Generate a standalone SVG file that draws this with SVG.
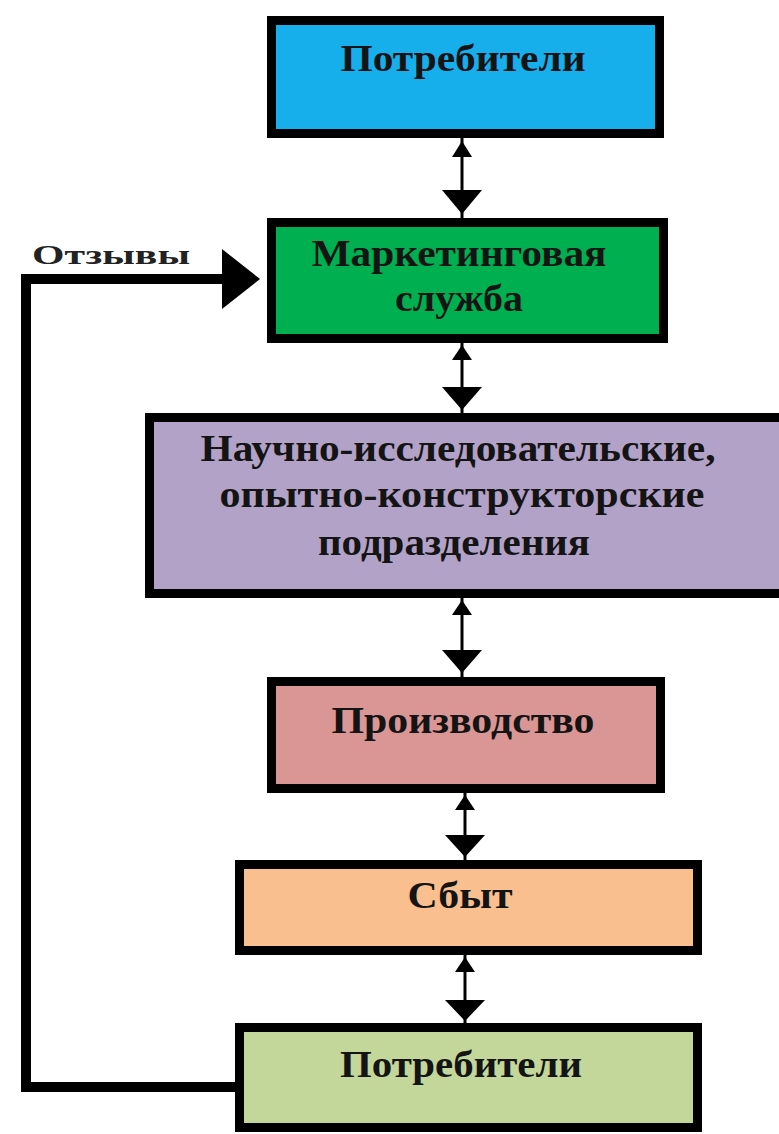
<svg xmlns="http://www.w3.org/2000/svg" width="779" height="1134" viewBox="0 0 779 1134">
<style>
.box{stroke:#000;stroke-width:9}
.t{font-family:"Liberation Serif","Times New Roman",serif;font-weight:bold;font-size:38px;text-anchor:middle;fill:#141414}
.lbl{font-family:"Liberation Serif","Times New Roman",serif;font-weight:bold;font-size:27px;fill:#222}
.thin{stroke:#000;stroke-width:3;fill:none}
.thick{stroke:#000;stroke-width:10;fill:none;stroke-linejoin:miter}
.ah{fill:#000}
</style>
<rect width="779" height="1134" fill="#fff"/>
<g id="connectors">
  <g id="c1">
    <line class="thin" x1="462" y1="138" x2="462" y2="218"/>
    <polygon class="ah" points="452,157 472,157 462,141"/>
    <polygon class="ah" points="442,190 482,190 462,214"/>
  </g>
  <g id="c2">
    <line class="thin" x1="462" y1="343" x2="462" y2="413"/>
    <polygon class="ah" points="452,360 472,360 462,345"/>
    <polygon class="ah" points="442,387 482,387 462,410"/>
  </g>
  <g id="c3">
    <line class="thin" x1="462" y1="598" x2="462" y2="677"/>
    <polygon class="ah" points="452,615 472,615 462,600"/>
    <polygon class="ah" points="442,650 482,650 462,673"/>
  </g>
  <g id="c4">
    <line class="thin" x1="465" y1="793" x2="465" y2="860"/>
    <polygon class="ah" points="455,810 475,810 465,795"/>
    <polygon class="ah" points="445,835 485,835 465,857"/>
  </g>
  <g id="c5">
    <line class="thin" x1="465" y1="955" x2="465" y2="1023"/>
    <polygon class="ah" points="455,972 475,972 465,957"/>
    <polygon class="ah" points="445,1000 485,1000 465,1021"/>
  </g>
  <g id="feedback">
    <polyline class="thick" points="243,1087 26,1087 26,279 226,279"/>
    <polygon class="ah" points="222,249 260,279 222,309"/>
    <text class="lbl" x="32" y="264" textLength="158" lengthAdjust="spacingAndGlyphs">Отзывы</text>
  </g>
</g>
<g id="n1">
  <rect class="box" x="271.5" y="20.5" width="388" height="113" fill="#17aeec"/>
  <text class="t" x="463" y="71" textLength="245" lengthAdjust="spacingAndGlyphs" fill="#0c1c48">Потребители</text>
</g>
<g id="n2">
  <rect class="box" x="271.5" y="222.5" width="392" height="116" fill="#00b050"/>
  <text class="t" x="459" y="266" textLength="295" lengthAdjust="spacingAndGlyphs" fill="#0b2a12">Маркетинговая</text>
  <text class="t" x="459" y="311" textLength="128" lengthAdjust="spacingAndGlyphs" fill="#0b2a12">служба</text>
</g>
<g id="n3">
  <rect class="box" x="149.5" y="417.5" width="640" height="176" fill="#b3a2c7"/>
  <text class="t" x="458" y="461" textLength="515" lengthAdjust="spacingAndGlyphs">Научно-исследовательские,</text>
  <text class="t" x="462" y="507" textLength="485" lengthAdjust="spacingAndGlyphs">опытно-конструкторские</text>
  <text class="t" x="454" y="555" textLength="272" lengthAdjust="spacingAndGlyphs">подразделения</text>
</g>
<g id="n4">
  <rect class="box" x="271.5" y="681.5" width="389" height="107" fill="#da9694"/>
  <text class="t" x="463" y="733" textLength="263" lengthAdjust="spacingAndGlyphs">Производство</text>
</g>
<g id="n5">
  <rect class="box" x="239.5" y="864.5" width="458" height="86" fill="#fabf8f"/>
  <text class="t" x="460" y="908" textLength="105" lengthAdjust="spacingAndGlyphs">Сбыт</text>
</g>
<g id="n6">
  <rect class="box" x="239.5" y="1027.5" width="458" height="100" fill="#c4d79b"/>
  <text class="t" x="461" y="1077" textLength="242" lengthAdjust="spacingAndGlyphs">Потребители</text>
</g>
</svg>
